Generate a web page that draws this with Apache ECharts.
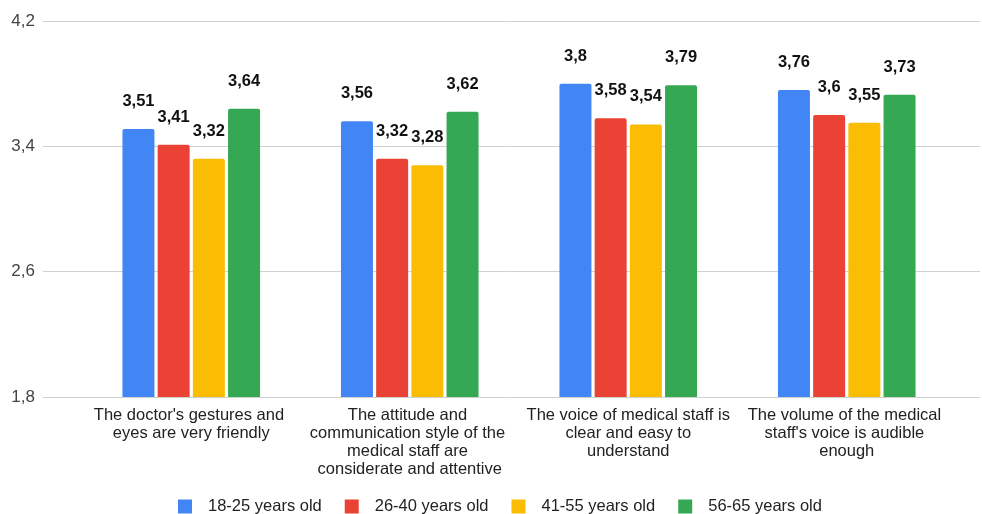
<!DOCTYPE html>
<html><head><meta charset="utf-8">
<script src="https://cdn.jsdelivr.net/npm/echarts@6/dist/echarts.min.js"></script>
<style>html,body{margin:0;padding:0;background:#fff}#c{width:982px;height:514px}</style>
</head><body><div id="c"></div>
<script>
const categories = [
  "The doctor's gestures and eyes are very friendly",
  "The attitude and communication style of the medical staff are considerate and attentive",
  "The voice of medical staff is clear and easy to understand",
  "The volume of the medical staff's voice is audible enough"
];
const seriesNames = ["18-25 years old", "26-40 years old", "41-55 years old", "56-65 years old"];
const age18_25 = [3.51, 3.56, 3.8, 3.76];
const age26_40 = [3.41, 3.32, 3.58, 3.6];
const age41_55 = [3.32, 3.28, 3.54, 3.55];
const age56_65 = [3.64, 3.62, 3.79, 3.73];
const colors = ["#4285F4", "#EA4335", "#FBBC04", "#34A853"];
const yMin = 1.8, yMax = 4.2, yStep = 0.8;

const fmt = v => String(v).replace('.', ',');
const font = "Arial, 'Liberation Sans', sans-serif";
const chart = echarts.init(document.getElementById('c'));
const data = [age18_25, age26_40, age41_55, age56_65];
chart.setOption({
  animation: false,
  color: colors,
  textStyle: { fontFamily: font },
  grid: [
    { left: 43, right: 2, top: 21, bottom: 117 },
    { left: 82, right: 26, top: 21, bottom: 117 }
  ],
  legend: {
    bottom: -6, left: 173, itemWidth: 14, itemHeight: 14, itemGap: 23,
    icon: 'rect',
    data: seriesNames,
    textStyle: { fontSize: 16.5, color: '#222', padding: [0, 0, 0, 11], fontFamily: font }
  },
  xAxis: [
    { gridIndex: 0, type: 'value', show: false, min: 0, max: 1 },
    {
      gridIndex: 1, type: 'category', data: categories,
      axisLine: { show: false }, axisTick: { show: false },
      axisLabel: {
        interval: 0, width: 207, overflow: 'break', fontSize: 16.5, color: '#222',
        lineHeight: 18, margin: 9, fontFamily: font
      }
    }
  ],
  yAxis: [
    {
      gridIndex: 0, type: 'value', min: yMin, max: yMax, interval: yStep,
      axisLine: { show: false }, axisTick: { show: false },
      axisLabel: { formatter: v => fmt(+v.toFixed(1)), fontSize: 17, color: '#444', margin: 8, fontFamily: font },
      splitLine: { lineStyle: { color: '#d0d0d0', width: 1 } }
    },
    {
      gridIndex: 1, type: 'value', min: yMin, max: yMax, interval: yStep, show: false,
      splitLine: { show: false }
    }
  ],
  series: data.map((d, i) => ({
    name: seriesNames[i], type: 'bar', xAxisIndex: 1, yAxisIndex: 1,
    data: d, barWidth: 32, barGap: '10%',
    itemStyle: { color: colors[i], borderRadius: [2, 2, 0, 0] },
    label: {
      show: true, position: 'top', distance: 19, formatter: p => fmt(p.value),
      fontSize: 16.5, fontWeight: 'bold', color: '#111', fontFamily: font
    }
  }))
});
</script></body></html>
